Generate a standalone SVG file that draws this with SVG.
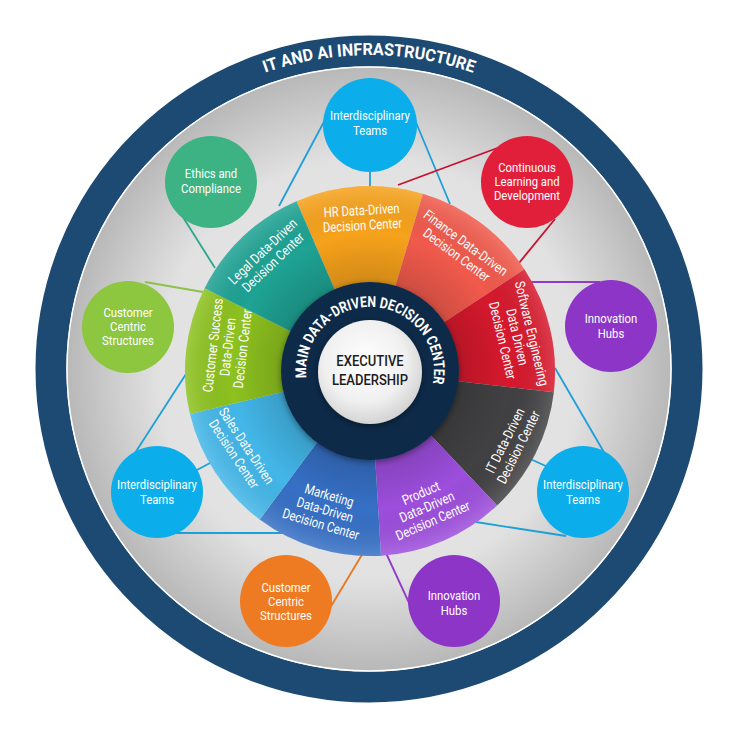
<svg xmlns="http://www.w3.org/2000/svg" width="740" height="740" viewBox="0 0 740 740">
<defs>
<style>
.lbl{font-family:Roboto,"Liberation Sans",sans-serif;font-size:13px;fill:#fff;text-anchor:middle}
.seg{font-family:Roboto,"Liberation Sans",sans-serif;font-size:13.8px;fill:#fff;text-anchor:middle}
.cb{stroke:#1e9fd8}
.cn{fill:none;stroke-width:1.8}
</style>
<radialGradient id="disc" cx="369" cy="369" r="302" gradientUnits="userSpaceOnUse">
<stop offset="0" stop-color="#eeeeee"/>
<stop offset="0.7" stop-color="#e1e1e1"/>
<stop offset="1" stop-color="#b8b8b8"/>
</radialGradient>
<radialGradient id="shade" cx="370" cy="371" r="185" gradientUnits="userSpaceOnUse">
<stop offset="0.48" stop-color="#000" stop-opacity="0.15"/>
<stop offset="0.75" stop-color="#000" stop-opacity="0"/>
<stop offset="1" stop-color="#fff" stop-opacity="0.15"/>
</radialGradient>
<radialGradient id="exec" cx="0.45" cy="0.4" r="0.65">
<stop offset="0" stop-color="#ffffff"/>
<stop offset="0.6" stop-color="#f0f0f0"/>
<stop offset="1" stop-color="#cdcdcd"/>
</radialGradient>
<filter id="sh" x="-20%" y="-20%" width="140%" height="140%">
<feDropShadow dx="0" dy="2" stdDeviation="3" flood-color="#000" flood-opacity="0.4"/>
</filter>
<path id="titleArc" d="M 167.2 128.5 A 314 314 0 0 1 570.8 128.5"/>
<path id="mainArc" d="M 307 382.1 A 64 64 0 1 1 431.8 387.6"/>
</defs>

<rect width="740" height="740" fill="#ffffff"/>
<g id="frame">
<circle cx="369" cy="369" r="318" fill="none" stroke="#1d4a73" stroke-width="31"/>
<circle cx="369" cy="369" r="302" fill="url(#disc)" stroke="#ffffff" stroke-width="1.5"/>
<text font-family="Roboto,'Liberation Sans',sans-serif" font-size="17" font-weight="bold" fill="#ffffff"><textPath href="#titleArc" startOffset="50%" text-anchor="middle" textLength="212" lengthAdjust="spacingAndGlyphs">IT AND AI INFRASTRUCTURE</textPath></text>
</g>

<g id="connectors">
<line class="cn cb" x1="326" y1="118" x2="279" y2="206"/>
<line class="cn cb" x1="370" y1="165" x2="370" y2="192"/>
<line class="cn cb" x1="415" y1="120" x2="450" y2="204"/>
<line class="cn cb" x1="135" y1="453" x2="186" y2="374"/>
<line class="cn cb" x1="195" y1="471" x2="212" y2="462"/>
<line class="cn cb" x1="175" y1="533" x2="290" y2="533"/>
<line class="cn cb" x1="605" y1="454" x2="555" y2="368"/>
<line class="cn cb" x1="548" y1="467" x2="528" y2="458"/>
<line class="cn cb" x1="566" y1="536" x2="476" y2="522"/>
<line class="cn" stroke="#2aa88a" x1="181" y1="214" x2="215" y2="268"/>
<line class="cn" stroke="#8bc34a" x1="145" y1="282" x2="203" y2="292"/>
<line class="cn" stroke="#c8102e" x1="500" y1="147" x2="398" y2="185"/>
<line class="cn" stroke="#c8102e" x1="555" y1="219" x2="519" y2="263"/>
<line class="cn" stroke="#8e3bc9" x1="600" y1="282" x2="530" y2="282"/>
<line class="cn" stroke="#e87722" x1="330" y1="608" x2="363" y2="553"/>
<line class="cn" stroke="#8e3bc9" x1="410" y1="605" x2="386" y2="553"/>
</g>

<g id="seg-hr"><path d="M370 371 L296.5 201.2 A185 185 0 0 1 422.9 193.7 Z" fill="#f7a21b"/></g>
<g id="seg-finance"><path d="M370 371 L422.9 193.7 A185 185 0 0 1 524.4 269.2 Z" fill="#f15a4c"/></g>
<g id="seg-software"><path d="M370 371 L524.4 269.2 A185 185 0 0 1 553.8 392.3 Z" fill="#d7192d"/></g>
<g id="seg-it"><path d="M370 371 L553.8 392.3 A185 185 0 0 1 497.1 505.4 Z" fill="#414143"/></g>
<g id="seg-product"><path d="M370 371 L497.1 505.4 A185 185 0 0 1 381 555.7 Z" fill="#9d4edd"/></g>
<g id="seg-marketing"><path d="M370 371 L381 555.7 A185 185 0 0 1 259.7 519.5 Z" fill="#3670c6"/></g>
<g id="seg-sales"><path d="M370 371 L259.7 519.5 A185 185 0 0 1 190 413.9 Z" fill="#43b7e9"/></g>
<g id="seg-cs"><path d="M370 371 L190 413.9 A185 185 0 0 1 204.6 288.2 Z" fill="#8dc21f"/></g>
<g id="seg-legal"><path d="M370 371 L204.6 288.2 A185 185 0 0 1 296.5 201.2 Z" fill="#1ea394"/></g>
<circle cx="370" cy="371" r="185" fill="url(#shade)"/>

<g id="seg-labels">
<text class="seg" transform="translate(362,218) rotate(-3.4) scale(0.82,1)"><tspan x="0" y="-3">HR Data-Driven</tspan><tspan x="0" y="12">Decision Center</tspan></text>
<text class="seg" transform="translate(461,249) rotate(36.6) scale(0.82,1)"><tspan x="0" y="-3">Finance Data-Driven</tspan><tspan x="0" y="12">Decision Center</tspan></text>
<text class="seg" transform="translate(517,337) rotate(76.6) scale(0.82,1)"><tspan x="0" y="-10.5">Software Engineering</tspan><tspan x="0" y="4.5">Data Driven</tspan><tspan x="0" y="19.5">Decision Center</tspan></text>
<text class="seg" transform="translate(512,444) rotate(-63.4) scale(0.82,1)"><tspan x="0" y="-3">IT Data-Driven</tspan><tspan x="0" y="12">Decision Center</tspan></text>
<text class="seg" transform="translate(427,507) rotate(-23.4) scale(0.82,1)"><tspan x="0" y="-10.5">Product</tspan><tspan x="0" y="4.5">Data-Driven</tspan><tspan x="0" y="19.5">Decision Center</tspan></text>
<text class="seg" transform="translate(325,510) rotate(16.6) scale(0.82,1)"><tspan x="0" y="-10.5">Marketing</tspan><tspan x="0" y="4.5">Data-Driven</tspan><tspan x="0" y="19.5">Decision Center</tspan></text>
<text class="seg" transform="translate(240,450) rotate(56.6) scale(0.82,1)"><tspan x="0" y="-3">Sales Data-Driven</tspan><tspan x="0" y="12">Decision Center</tspan></text>
<text class="seg" transform="translate(228,347) rotate(-83.4) scale(0.82,1)"><tspan x="0" y="-10.5">Customer Success</tspan><tspan x="0" y="4.5">Data-Driven</tspan><tspan x="0" y="19.5">Decision Center</tspan></text>
<text class="seg" transform="translate(268,257) rotate(-43.4) scale(0.82,1)"><tspan x="0" y="-3">Legal Data-Driven</tspan><tspan x="0" y="12">Decision Center</tspan></text>
</g>

<g id="main-center">
<circle cx="370" cy="371" r="89" fill="#0f2c4a" filter="url(#sh)"/>
<text font-family="Roboto,'Liberation Sans',sans-serif" font-size="15" font-weight="bold" fill="#ffffff"><textPath href="#mainArc" startOffset="50%" text-anchor="middle" textLength="220" lengthAdjust="spacingAndGlyphs">MAIN DATA-DRIVEN DECISION CENTER</textPath></text>
</g>
<g id="executive">
<circle cx="370" cy="372" r="52" fill="url(#exec)" filter="url(#sh)"/>
<text font-family="Roboto,'Liberation Sans',sans-serif" font-size="15.5" font-weight="500" fill="#1b1b1b" text-anchor="middle" transform="translate(370,0) scale(0.84,1)"><tspan x="0" y="366">EXECUTIVE</tspan><tspan x="0" y="385">LEADERSHIP</tspan></text>
</g>

<g id="n-teams-top"><circle cx="370" cy="125" r="47" fill="#0baeea"/>
<text class="lbl" transform="translate(370,125) scale(0.87,1)"><tspan x="0" y="-5">Interdisciplinary</tspan><tspan x="0" y="10">Teams</tspan></text></g>
<g id="n-ethics"><circle cx="211" cy="182" r="46" fill="#3db383"/>
<text class="lbl" transform="translate(211,182) scale(0.87,1)"><tspan x="0" y="-4">Ethics and</tspan><tspan x="0" y="11">Compliance</tspan></text></g>
<g id="n-learning"><circle cx="527" cy="182" r="46" fill="#e21f3a"/>
<text class="lbl" transform="translate(527,182) scale(0.87,1)"><tspan x="0" y="-10">Continuous</tspan><tspan x="0" y="4">Learning and</tspan><tspan x="0" y="18">Development</tspan></text></g>
<g id="n-customer-left"><circle cx="128" cy="327" r="46" fill="#8dc63f"/>
<text class="lbl" transform="translate(128,327) scale(0.87,1)"><tspan x="0" y="-10">Customer</tspan><tspan x="0" y="4">Centric</tspan><tspan x="0" y="18">Structures</tspan></text></g>
<g id="n-innovation-right"><circle cx="611" cy="326" r="46" fill="#8d35c7"/>
<text class="lbl" transform="translate(611,326) scale(0.87,1)"><tspan x="0" y="-3">Innovation</tspan><tspan x="0" y="12">Hubs</tspan></text></g>
<g id="n-teams-left"><circle cx="157" cy="492" r="46" fill="#0baeea"/>
<text class="lbl" transform="translate(157,492) scale(0.87,1)"><tspan x="0" y="-3">Interdisciplinary</tspan><tspan x="0" y="12">Teams</tspan></text></g>
<g id="n-teams-right"><circle cx="583" cy="492" r="46" fill="#0baeea"/>
<text class="lbl" transform="translate(583,492) scale(0.87,1)"><tspan x="0" y="-3">Interdisciplinary</tspan><tspan x="0" y="12">Teams</tspan></text></g>
<g id="n-customer-bottom"><circle cx="286" cy="601" r="46" fill="#ee7a22"/>
<text class="lbl" transform="translate(286,601) scale(0.87,1)"><tspan x="0" y="-9">Customer</tspan><tspan x="0" y="5">Centric</tspan><tspan x="0" y="19">Structures</tspan></text></g>
<g id="n-innovation-bottom"><circle cx="454" cy="601" r="46" fill="#8d35c7"/>
<text class="lbl" transform="translate(454,601) scale(0.87,1)"><tspan x="0" y="-1">Innovation</tspan><tspan x="0" y="14">Hubs</tspan></text></g>
</svg>
